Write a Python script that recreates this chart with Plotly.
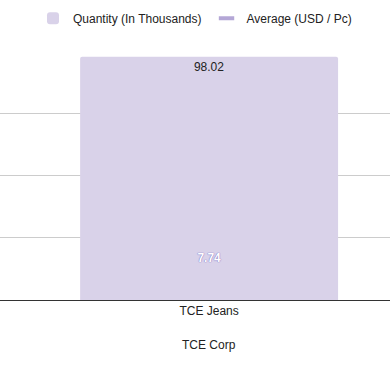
import plotly.graph_objects as go

groups = ["TCE Corp"]
categories = ["TCE Jeans"]
quantity = [98.02]
average = [7.74]
qty_labels = ["98.02"]
avg_labels = ["7.74"]

FONT = "Liberation Sans, Arial"
FS = 12

fig = go.Figure()
fig.add_trace(go.Bar(
    x=categories, y=quantity, name="Quantity (In Thousands)",
    marker=dict(color="#d9d2e9", line=dict(width=0), cornerradius=2),
    text=qty_labels, textposition="inside", insidetextanchor="end",
    textfont=dict(color="#222222", size=FS, family=FONT),
    width=0.713,
))
# data trace for the average (label only, no legend entry)
fig.add_trace(go.Scatter(
    x=categories, y=average, name="Average (USD / Pc)", yaxis="y2",
    mode="text", showlegend=False, legendgroup="avg",
    text=avg_labels, textposition="middle center",
    textfont=dict(color="white", size=FS, family=FONT, weight="bold",
                  shadow="0px 0px 1px #7e6bc0, 0px 0px 1px #7e6bc0"),
))
# legend key for the average series
fig.add_trace(go.Scatter(
    x=[None], y=[None], name="Average (USD / Pc)", yaxis="y2",
    mode="markers", legendgroup="avg",
    marker=dict(symbol="line-ew", size=11, color="#b4a7d6",
                line=dict(color="#b4a7d6", width=4)),
))

# group (second-level) label under the category
for c, g in zip(categories, groups):
    fig.add_annotation(x=c, xref="x", y=-0.181, yref="paper", yanchor="middle",
                       text=g, showarrow=False,
                       font=dict(size=FS, color="#222222", family=FONT))

fig.update_layout(
    width=390, height=371,
    margin=dict(l=0, r=0, t=51, b=71, autoexpand=False),
    paper_bgcolor="white", plot_bgcolor="white",
    font=dict(family=FONT, size=FS, color="#222222"),
    legend=dict(orientation="h", x=0.5, xanchor="center", y=0.99, yanchor="top",
                yref="container", font=dict(size=FS, color="#222222"),
                itemwidth=30, traceorder="normal"),
    showlegend=True,
    xaxis=dict(type="category", range=[-0.578, 0.5], showline=True,
               linecolor="#333333", linewidth=1, showgrid=False, ticks="",
               tickvals=categories, ticktext=categories,
               tickfont=dict(size=FS, color="#222222")),
    yaxis=dict(range=[0, 100.3], tickvals=[0, 25, 50, 75, 100], showticklabels=False,
               gridcolor="#cccccc", gridwidth=1, zeroline=False, showline=False),
    yaxis2=dict(range=[0, 47], overlaying="y", side="right", showticklabels=False,
                showgrid=False, zeroline=False, showline=False),
)

fig.write_html("out.html", config={"displayModeBar": False},
               post_script="document.body.style.margin='0';")
